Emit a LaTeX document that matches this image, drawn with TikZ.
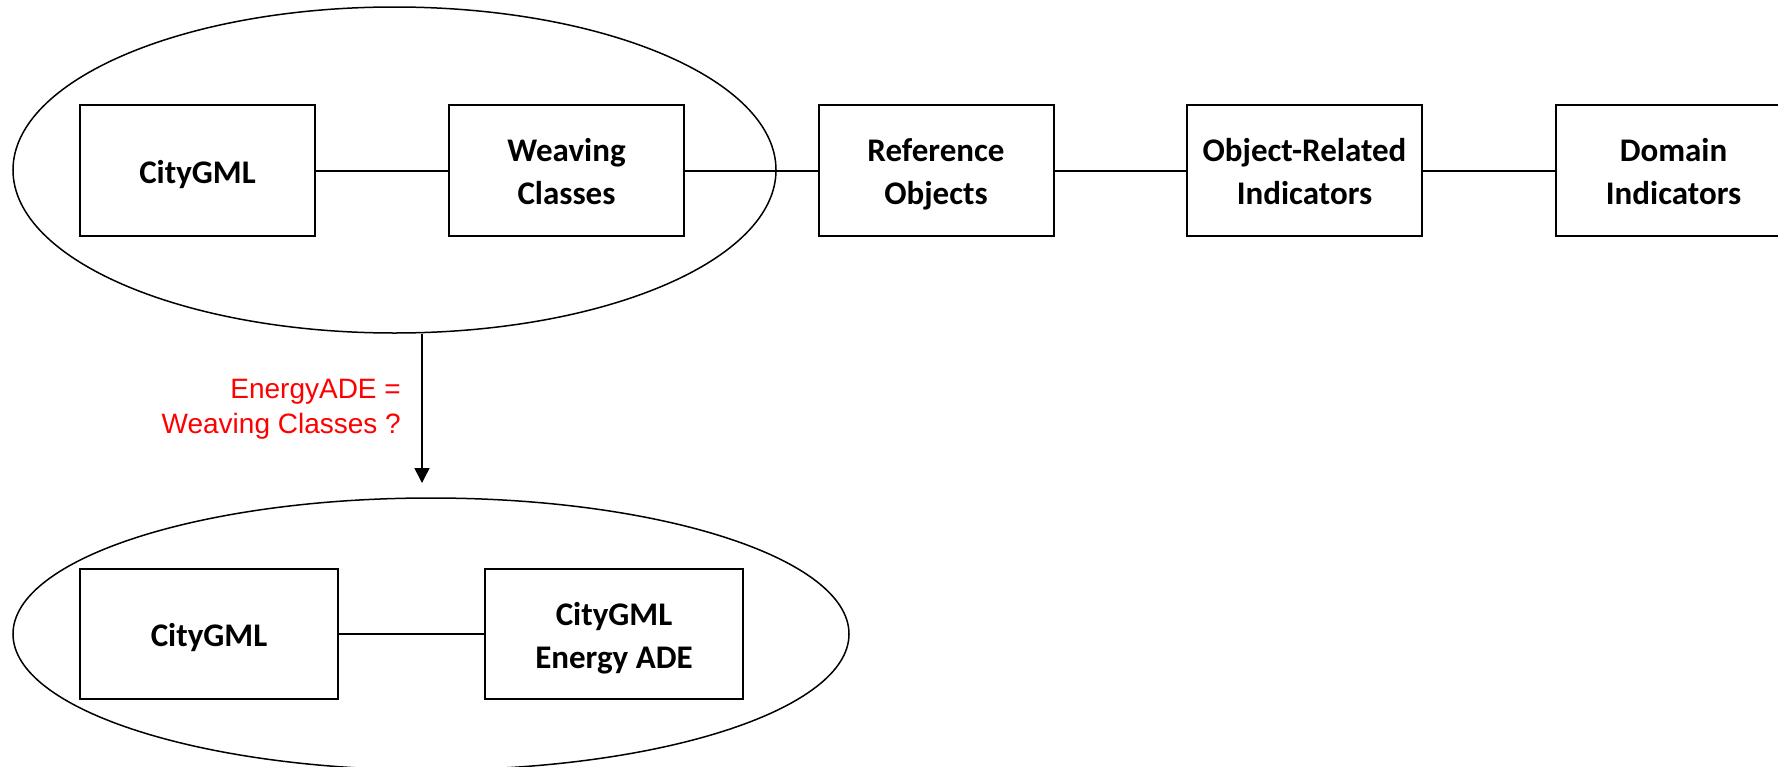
\documentclass[tikz,border=0pt]{standalone}
\usepackage{fontspec}
\setmainfont{Carlito}
\newfontfamily\redfont{Liberation Sans}
\usetikzlibrary{shapes.geometric,arrows.meta}
\newcommand\bxs{\rule[-9pt]{0pt}{43pt}}
\tikzset{
  box/.style={draw, line width=2pt, minimum width=235pt, minimum height=131pt, inner sep=0pt,
    align=center, font=\bfseries\fontsize{33}{43}\selectfont},
  widebox/.style={box, minimum width=258pt, minimum height=130pt},
  group/.style={draw, ellipse, line width=1.5pt, inner sep=0pt},
  link/.style={line width=2pt},
  lbl/.style={text=red, font=\redfont\fontsize{28}{35}\selectfont, inner sep=0pt, anchor=base east}
}
\begin{document}
\begin{tikzpicture}[x=1pt,y=-1pt]
\useasboundingbox (0,0) rectangle (1778,766);
% groups
\node[group, minimum width=763pt, minimum height=326pt] (g1) at (394.5,170) {};
\node[group, minimum width=836pt, minimum height=272pt] (g2) at (431,634) {};
% top row
\node[box] (c1) at (197.5,170.5) {\bxs CityGML};
\node[box] (wc) at (566.5,170.5) {\bxs Weaving\\\bxs Classes};
\node[box] (ro) at (936,170.5) {\bxs Reference\\\bxs Objects};
\node[box] (ori) at (1304.5,170.5) {\bxs Object-Related\\\bxs Indicators};
\node[box] (di) at (1673.5,170.5) {\bxs Domain\\\bxs Indicators};
\draw[link] (c1) -- (wc);
\draw[link] (wc) -- (ro);
\draw[link] (ro) -- (ori);
\draw[link] (ori) -- (di);
% bottom row
\node[widebox] (c2) at (209,634) {\bxs CityGML};
\node[widebox] (ea) at (614,634) {\bxs CityGML\\\bxs Energy ADE};
\draw[link] (c2) -- (ea);
% arrow
\coordinate (tip) at (422,483);
\draw[line width=1.5pt, -{Triangle[width=15pt,length=15pt]}] (tip |- g1.south) -- (tip);
\node[lbl] (l1) at (401,398) {EnergyADE =};
\node[lbl] (l2) at (401,433) {Weaving Classes ?};
\end{tikzpicture}
\end{document}
